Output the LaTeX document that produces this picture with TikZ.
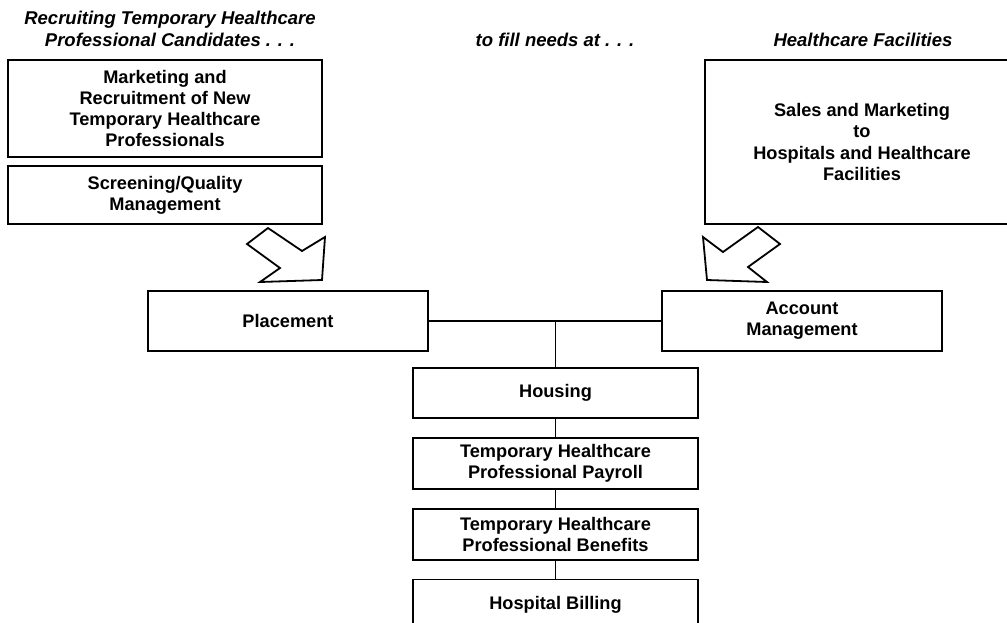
\documentclass[tikz,border=0pt]{standalone}
\usepackage{fontspec}
\setmainfont{Liberation Sans}
\usetikzlibrary{positioning}

\begin{document}
\begin{tikzpicture}[x=1pt, y=-1pt, node distance={18pt}, line width=1.8pt,
    main/.style = {draw, rectangle, align=center, inner sep=0pt, font=\fontsize{18.2}{21.2}\selectfont\bfseries},
    head/.style = {align=center, font=\fontsize{18.5}{22}\selectfont\bfseries\itshape},
    bigarrow/.style = {draw, line join=miter, fill=white}]
            \path[use as bounding box, clip] (0,0) rectangle (1007,622);

            %headings

            \node[head] (RECRUIT) at (170,29) {Recruiting Temporary Healthcare\\Professional Candidates . . .};
            \node[head] (FILL) at (555,40) {to fill needs at . . .};
            \node[head] (FACIL) at (863,40) {Healthcare Facilities};

            %upper boxes

            \node[main, minimum width=314pt, minimum height=97pt] (MKT) at (165,108.5) {Marketing and\\Recruitment of New\\Temporary Healthcare\\Professionals};
            \node[main, minimum width=314pt, minimum height=58pt] (SCR) at (165,195) {Screening/Quality\\Management};
            \node[main, minimum width=314pt, minimum height=164pt] (SALES) at (862,142) {Sales and Marketing\\to\\Hospitals and Healthcare\\Facilities};

            \draw[bigarrow] (268,228) -- (302,251) -- (325,237) -- (322,280) -- (260,282) -- (280,268) -- (247,244) -- cycle;
            \draw[bigarrow] (758,227) -- (780,244) -- (748,267) -- (767,282) -- (707,280) -- (703,237) -- (723,252) -- cycle;

            %middle row

            \node[main, minimum width=280pt, minimum height=60pt] (PLACE) at (288,321) {Placement};
            \node[main, minimum width=280pt, minimum height=60pt] (ACCT) at (802,321) {Account\\Management};

            %stack below

            \node[main, minimum width=285pt, minimum height=50pt] (HOUSING) at (555.5,393) {Housing};
            \node[main, minimum width=285pt, minimum height=51pt] (PAYROLL) [below=of HOUSING] {Temporary Healthcare\\Professional Payroll};
            \node[main, minimum width=285pt, minimum height=51pt] (BENEFITS) [below=of PAYROLL] {Temporary Healthcare\\Professional Benefits};
            \node[main, minimum width=285pt, minimum height=50pt] (BILLING) [below=of BENEFITS] {Hospital Billing};

            \coordinate (JOIN) at (HOUSING.north |- PLACE.east);
            \draw (PLACE) -- (ACCT);
            \draw (JOIN) -- (HOUSING);
            \draw (HOUSING) -- (PAYROLL);
            \draw (PAYROLL) -- (BENEFITS);
            \draw (BENEFITS) -- (BILLING);
\end{tikzpicture}
\end{document}
